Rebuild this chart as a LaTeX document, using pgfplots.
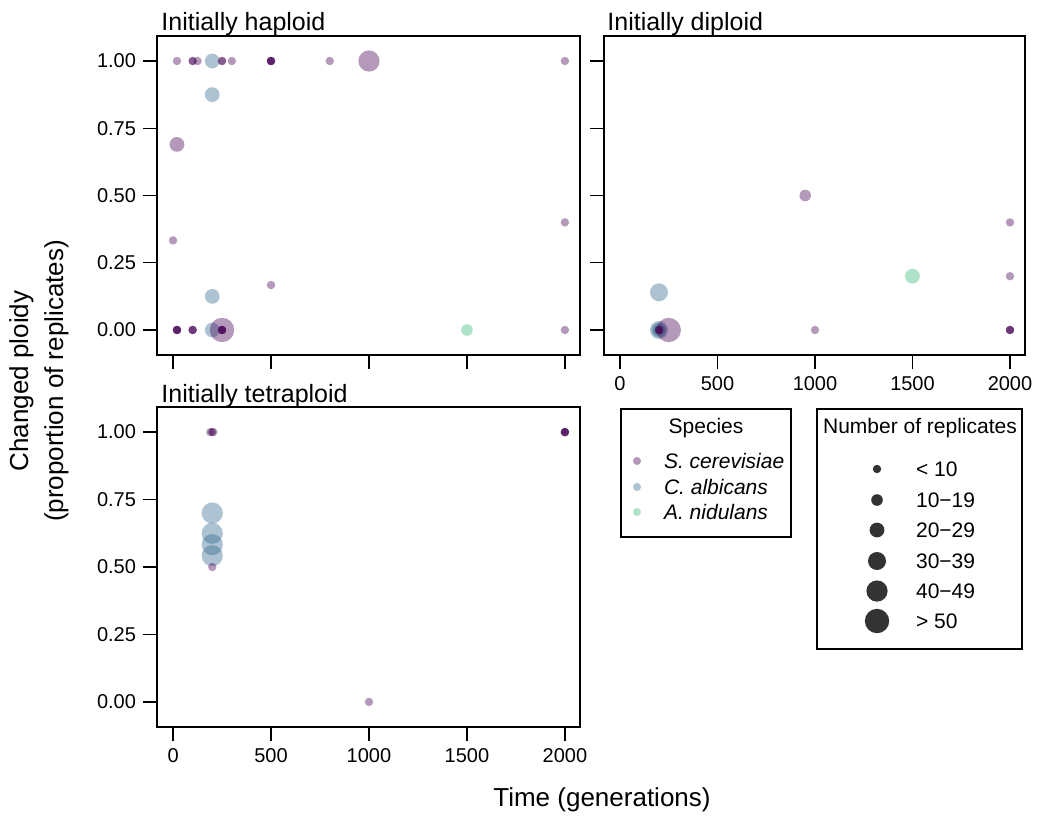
\documentclass[border=0pt]{standalone}
\usepackage{fontspec}
\setmainfont{Liberation Sans}
\usepackage{pgfplots}
\usepackage{pgfplotstable}
\pgfplotsset{compat=1.18}

\definecolor{cP}{HTML}{440154}
\definecolor{cB}{HTML}{31688E}
\definecolor{cG}{HTML}{35B779}
\definecolor{cK}{HTML}{333333}

% k = size class of number of replicates (1: <10 ... 6: >50)
\pgfplotstableread[row sep=\\]{
x y k\\
20 1 1\\ 100 1 1\\ 100 1 1\\ 125 1 1\\ 250 1 1\\ 250 1 1\\ 300 1 1\\
500 1 1\\ 500 1 1\\ 500 1 1\\ 500 1 1\\ 800 1 1\\ 1000 1 5\\ 2000 1 1\\
20 0.69 3\\ 0 0.333 1\\ 500 0.167 1\\ 2000 0.4 1\\ 2000 0 1\\
20 0 1\\ 20 0 1\\ 20 0 1\\ 20 0 1\\ 100 0 1\\ 100 0 1\\ 100 0 1\\
250 0 6\\ 250 0 1\\ 250 0 1\\ 250 0 1\\ 250 0 1\\
}\hapS
\pgfplotstableread[row sep=\\]{
x y k\\ 200 1 3\\ 200 0.875 3\\ 200 0.125 3\\ 200 0 3\\
}\hapC
\pgfplotstableread[row sep=\\]{
x y k\\ 1500 0 2\\
}\hapA

\pgfplotstableread[row sep=\\]{
x y k\\
950 0.5 2\\ 2000 0.4 1\\ 2000 0.2 1\\ 2000 0 1\\ 2000 0 1\\ 2000 0 1\\
1000 0 1\\ 200 0 1\\ 200 0 1\\ 200 0 1\\ 250 0 6\\
}\dipS
\pgfplotstableread[row sep=\\]{
x y k\\ 200 0.14 4\\ 200 0 4\\ 200 0 3\\ 200 0 2\\
}\dipC
\pgfplotstableread[row sep=\\]{
x y k\\ 1500 0.2 3\\
}\dipA

\pgfplotstableread[row sep=\\]{
x y k\\
190 1 1\\ 200 1 1\\ 205 1 1\\ 200 0.5 1\\ 1000 0 1\\
2000 1 1\\ 2000 1 1\\ 2000 1 1\\ 2000 1 1\\
}\tetS
\pgfplotstableread[row sep=\\]{
x y k\\ 200 0.70 5\\ 200 0.625 5\\ 200 0.583 5\\ 200 0.542 5\\
}\tetC

% legend marks
\pgfplotstableread[row sep=\\]{
x y k\\ 16 76 0.9\\
}\legP
\pgfplotstableread[row sep=\\]{
x y k\\ 16 50 0.9\\
}\legB
\pgfplotstableread[row sep=\\]{
x y k\\ 16 25 0.9\\
}\legG
\pgfplotstableread[row sep=\\]{
x y k\\ 60 180 1\\ 60 149 2\\ 60 119 3\\ 60 88 4\\ 60 58 5\\ 60 28 6\\
}\legK

\pgfplotsset{
  panel/.style={scale only axis, width=211.5pt, height=159.5pt,
    xmin=-82, xmax=2077, ymin=-0.093, ymax=1.093,
    tick align=outside, tick pos=left, major tick length=7pt,
    xtick={0,500,1000,1500,2000}, ytick={0,0.25,0.5,0.75,1},
    scaled ticks=false,
    /pgf/number format/assume math mode=true,
    axis line style={line width=0.7pt},
    tick style={black, line width=0.7pt},
    tick label style={font=\fontsize{10}{12}\selectfont},
  },
  ylab/.style={yticklabels={0.00,0.25,0.50,0.75,1.00}},
  xlab/.style={xticklabels={0,500,1000,1500,2000}},
  bubsize/.style={
    visualization depends on={1.3+0.8*\thisrow{k} \as \rad},
    scatter/@pre marker code/.append style={/tikz/mark size=\rad pt}},
  bub/.style={scatter, only marks, mark=*,
    scatter/use mapped color={draw=#1, fill=#1, fill opacity=0.4, draw opacity=0},
    bubsize},
  bubsolid/.style={scatter, only marks, mark=*,
    scatter/use mapped color={draw=#1, fill=#1, draw opacity=0},
    bubsize},
  legbox/.style={scale only axis, xtick=\empty, ytick=\empty,
    axis line style={line width=0.7pt}, clip=false,
    font=\fontsize{10.5}{12}\selectfont},
}

\begin{document}
\begin{tikzpicture}
\path[use as bounding box] (0,0) rectangle (519pt,408pt);

% Initially haploid
\begin{axis}[panel, ylab, xticklabels={}, at={(78.5pt,230.5pt)}, anchor=south west]
\addplot[bub=cB] table {\hapC};
\addplot[bub=cG] table {\hapA};
\addplot[bub=cP] table {\hapS};
\end{axis}

% Initially diploid
\begin{axis}[panel, xlab, yticklabels={}, width=210.5pt, at={(302pt,230.5pt)}, anchor=south west]
\addplot[bub=cB] table {\dipC};
\addplot[bub=cG] table {\dipA};
\addplot[bub=cP] table {\dipS};
\end{axis}

% Initially tetraploid
\begin{axis}[panel, ylab, xlab, height=160pt, at={(78.5pt,44.5pt)}, anchor=south west]
\addplot[bub=cB] table {\tetC};
\addplot[bub=cP] table {\tetS};
\end{axis}

% legend: species
\begin{axis}[legbox, width=85pt, height=64pt, xmin=0, xmax=170, ymin=0, ymax=128,
  at={(310.5pt,139.5pt)}, anchor=south west]
\addplot[bub=cP] table {\legP};
\addplot[bub=cB] table {\legB};
\addplot[bub=cG] table {\legG};
\node at (axis cs:85,109) {Species};
\node[anchor=west] at (axis cs:36,76) {\textit{S. cerevisiae}};
\node[anchor=west] at (axis cs:36,50) {\textit{C. albicans}};
\node[anchor=west] at (axis cs:36,25) {\textit{A. nidulans}};
\end{axis}

% legend: number of replicates
\begin{axis}[legbox, width=102.5pt, height=120pt, xmin=0, xmax=205, ymin=0, ymax=240,
  at={(408.5pt,83.5pt)}, anchor=south west]
\addplot[bubsolid=cK] table {\legK};
\node at (axis cs:103,221) {Number of replicates};
\node[anchor=west] at (axis cs:92,180) {< 10};
\node[anchor=west] at (axis cs:92,149) {10−19};
\node[anchor=west] at (axis cs:92,119) {20−29};
\node[anchor=west] at (axis cs:92,88) {30−39};
\node[anchor=west] at (axis cs:92,58) {40−49};
\node[anchor=west] at (axis cs:92,28) {> 50};
\end{axis}

% titles and axis labels
\node[anchor=base west, inner sep=0, font=\fontsize{12.5}{15}\selectfont] at (80.5pt,392.5pt) {Initially haploid};
\node[anchor=base west, inner sep=0, font=\fontsize{12.5}{15}\selectfont] at (303.5pt,392.5pt) {Initially diploid};
\node[anchor=base west, inner sep=0, font=\fontsize{12.5}{15}\selectfont] at (80.5pt,207pt) {Initially tetraploid};
\node[rotate=90, align=center, font=\fontsize{13}{17.5}\selectfont] at (19.5pt,217.5pt) {Changed ploidy\\(proportion of replicates)};
\node[font=\fontsize{13}{15}\selectfont] at (301pt,8pt) {Time (generations)};
\end{tikzpicture}
\end{document}
